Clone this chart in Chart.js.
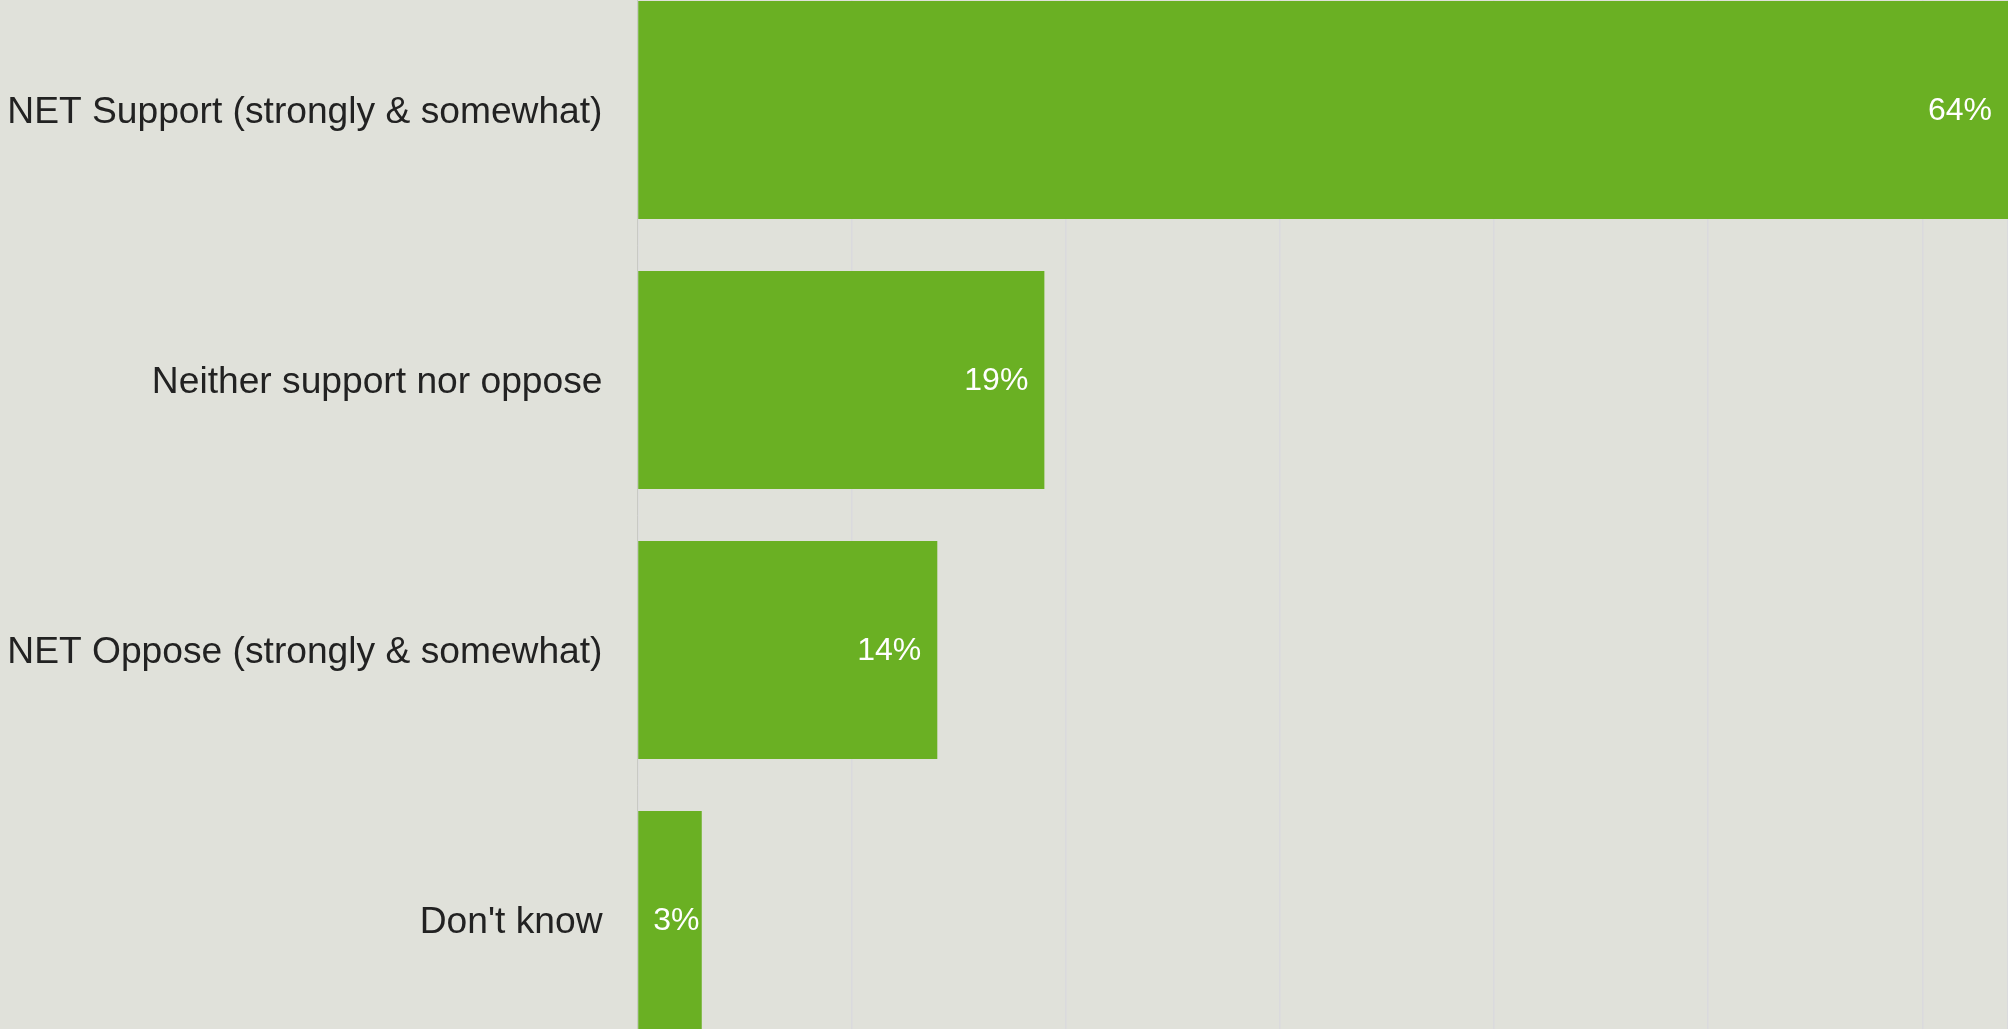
<!DOCTYPE html>
<html>
<head>
<meta charset="utf-8">
<script src="https://cdn.jsdelivr.net/npm/chart.js@4/dist/chart.umd.min.js"></script>
<style>
  html, body { margin: 0; padding: 0; overflow: hidden; background: #e0e1da; }
  body { width: 2008px; height: 1029px; position: relative; }
  #wrap { position: absolute; left: 0; top: -25.5px; width: 2008px; height: 1080px; }
</style>
</head>
<body>
<div id="wrap"><canvas id="chart" width="2008" height="1080"></canvas></div>
<script>
// Survey responses (percent of respondents)
const categories = [
  'NET Support (strongly & somewhat)',
  'Neither support nor oppose',
  'NET Oppose (strongly & somewhat)',
  "Don't know"
];
const values = [64, 19, 14, 3];
const valueSuffix = '%';

const FONT = 'Arial, "Liberation Sans", Helvetica, sans-serif';

// Writes each bar's value just inside its end, kept clear of the bar's start
const valueLabels = {
  id: 'valueLabels',
  afterDatasetsDraw(chart) {
    const ctx = chart.ctx;
    const meta = chart.getDatasetMeta(0);
    ctx.save();
    ctx.font = '32px ' + FONT;
    ctx.fillStyle = '#ffffff';
    ctx.textAlign = 'right';
    ctx.textBaseline = 'middle';
    meta.data.forEach((bar, i) => {
      const text = values[i] + valueSuffix;
      const w = ctx.measureText(text).width;
      const right = Math.max(bar.base + 15 + w, bar.x - 16);
      ctx.fillText(text, right, bar.y + 1);
    });
    ctx.restore();
  }
};

new Chart(document.getElementById('chart'), {
  type: 'bar',
  data: {
    labels: categories,
    datasets: [{
      data: values,
      backgroundColor: '#6ab023',
      borderWidth: 0,
      barPercentage: 0.807,
      categoryPercentage: 1.0
    }]
  },
  options: {
    indexAxis: 'y',
    responsive: false,
    animation: false,
    events: [],
    layout: { padding: 0 },
    plugins: {
      legend: { display: false },
      tooltip: { enabled: false }
    },
    scales: {
      x: {
        min: 0,
        max: 64,
        ticks: { display: false, stepSize: 10 },
        grid: { color: '#dadadd', lineWidth: 1.5, drawTicks: false },
        border: { display: false },
        afterFit(scale) {
          scale.height = 0;
          scale.paddingLeft = 0;
          scale.paddingRight = 0;
        }
      },
      y: {
        ticks: {
          color: '#222222',
          font: { family: FONT, size: 37.2 },
          padding: 35,
          labelOffset: 3
        },
        grid: { display: false, drawTicks: false },
        border: { display: true, color: '#c9cac4', width: 1 },
        afterFit(scale) {
          scale.width = 637.5;
          scale.paddingTop = 0;
          scale.paddingBottom = 0;
        }
      }
    }
  },
  plugins: [valueLabels]
});
</script>
</body>
</html>
